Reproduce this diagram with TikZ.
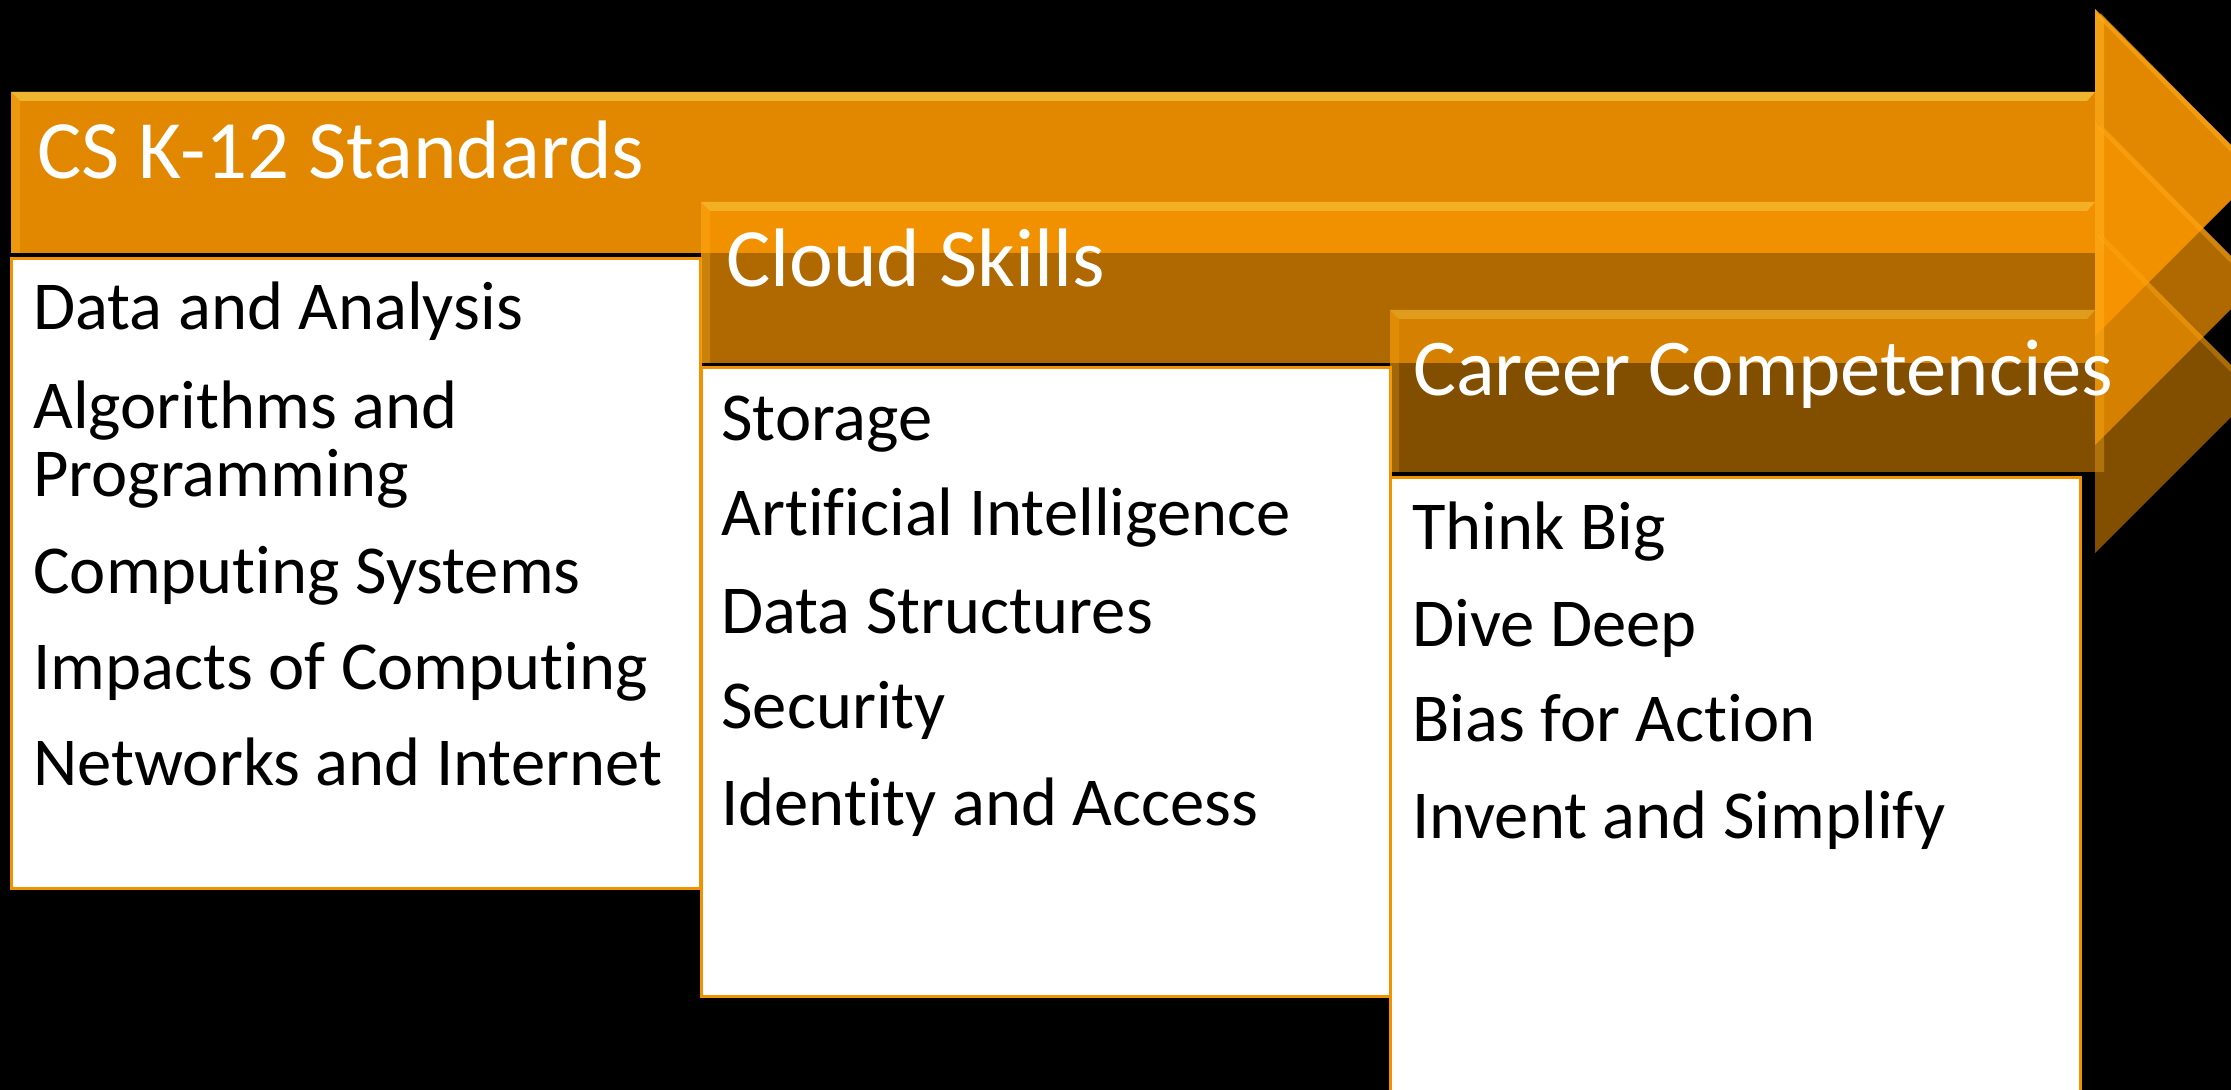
\documentclass[tikz,border=0pt]{standalone}
\usepackage{fontspec}
\setmainfont{Carlito}[Ligatures=CommonOff]
\definecolor{arr}{RGB}{250,150,0}
\definecolor{hlyel}{RGB}{248,220,90}
\definecolor{hlorg}{RGB}{255,175,30}
\definecolor{boxline}{RGB}{243,146,0}
\newcommand{\flowarrow}[5]{%
  \pgfmathsetmacro{\arrC}{(#2+#3)/2}%
  \pgfmathsetmacro{\arrHB}{2*\arrC-#4}%
  \pgfmathsetmacro{\arrX}{2095+\arrC-#4}%
  \fill[arr,fill opacity=#5] (#1,#2) -- (2095,#2) -- (2095,#4) -- (\arrX,\arrC) -- (2095,\arrHB) -- (2095,#3) -- (#1,#3) -- cycle;
  \fill[hlyel,fill opacity=0.6*#5] (#1,#2) -- (2095,#2) -- (2087,#2+9) -- (#1+9,#2+9) -- cycle;
  \fill[hlorg,fill opacity=0.5*#5] (#1,#2) -- (#1+9,#2+9) -- (#1+9,#3) -- (#1,#3) -- cycle;
  \fill[hlorg,fill opacity=0.7*#5] (2095,#4) -- (2104,#4+12) -- (2104,#3) -- (2095,#3) -- cycle;
  \draw[hlorg,line width=2.5pt,draw opacity=0.6*#5] (2099,#4+6) -- (\arrX-4,\arrC);
}
\begin{document}
\begin{tikzpicture}[x=0.5pt,y=-0.5pt,
  headtext/.style={text=white,font=\fontsize{41.5}{50}\selectfont,inner sep=0pt,anchor=base west},
  itemtext/.style={text=black,font=\fontsize{34.3}{34}\selectfont,inner sep=0pt,anchor=base west,align=left},
  panel/.style={fill=white,draw=boxline,line width=1.5pt},
]
\fill[black] (0,0) rectangle (2231,1090);
\useasboundingbox (0,0) rectangle (2231,1090);

% stage 1
\flowarrow{11}{92}{253}{9}{0.9}
\draw[panel] (11,259) rectangle (700,888);
% stage 2
\flowarrow{701}{202}{363}{120}{0.7}
\draw[panel] (701,368) rectangle (1390,996);
% stage 3
\flowarrow{1390}{310}{472}{229}{0.52}
\draw[panel] (1390,478) rectangle (2080,1110);

% headings
\node[headtext] (h1) at (37,179) {CS K-12 Standards};
\node[headtext] (h2) at (726,287) {Cloud Skills};
\node[headtext,font=\fontsize{40.3}{50}\selectfont] (h3) at (1413,396) {Career Competencies};

% column 1
\node[itemtext] (a1) at (33,330) {Data and Analysis};
\node[itemtext] (a2) at (33,497) {Algorithms and\\Programming};
\node[itemtext] (a3) at (33,593) {Computing Systems};
\node[itemtext] (a4) at (33,689) {Impacts of Computing};
\node[itemtext] (a5) at (33,785) {Networks and Internet};

% column 2
\node[itemtext] (b1) at (721,441) {Storage};
\node[itemtext] (b2) at (721,536) {Artificial Intelligence};
\node[itemtext] (b3) at (721,633) {Data Structures};
\node[itemtext] (b4) at (721,728) {Security};
\node[itemtext] (b5) at (721,825) {Identity and Access};

% column 3
\node[itemtext] (c1) at (1412,549) {Think Big};
\node[itemtext] (c2) at (1412,646) {Dive Deep};
\node[itemtext] (c3) at (1412,741) {Bias for Action};
\node[itemtext] (c4) at (1412,838) {Invent and Simplify};
\end{tikzpicture}
\end{document}
